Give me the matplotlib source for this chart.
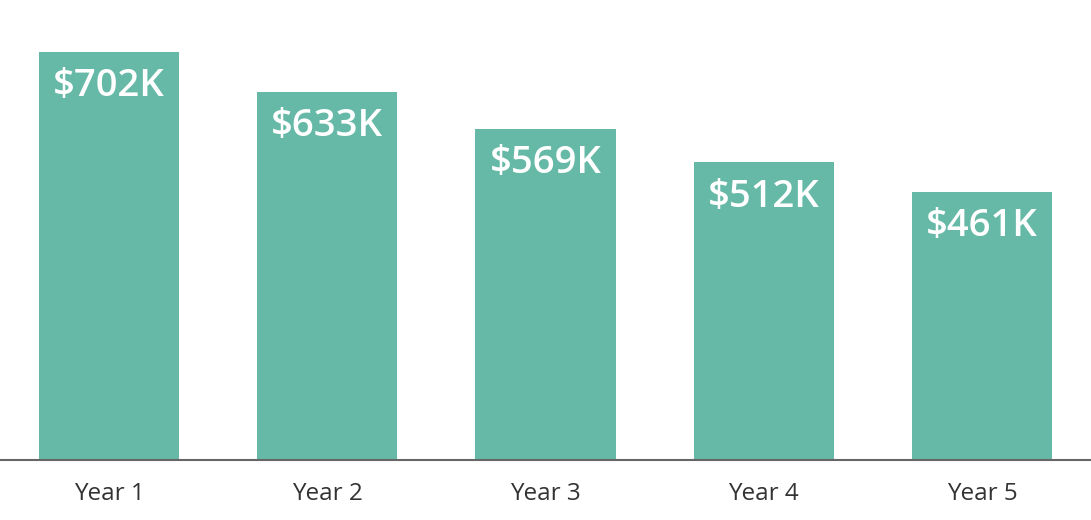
import matplotlib
matplotlib.use("Agg")
import matplotlib.pyplot as plt

categories = ["Year 1", "Year 2", "Year 3", "Year 4", "Year 5"]
values = [702, 633, 569, 512, 461]
labels = ["$702K", "$633K", "$569K", "$512K", "$461K"]

plt.rcParams['font.family'] = ['Open Sans', 'DejaVu Sans']

fig = plt.figure(figsize=(10.91, 5.20), dpi=100)
ax = fig.add_axes([0, 60/520, 1, 460/520])
x = list(range(len(categories)))
bars = ax.bar(x, values, width=0.642, color='#66B9A7')
ax.set_xlim(-0.5, 4.5)
ax.set_ylim(0, 791)
for xi, v, lab in zip(x, values, labels):
    ax.annotate(lab, (xi, v), xytext=(0, -11), textcoords='offset points',
                ha='center', va='top', color='white', fontsize=27.5,
                fontweight='semibold')
ax.set_xticks(x)
ax.set_xticklabels(categories, fontsize=17.5, color='#333333')
ax.tick_params(axis='x', length=0, pad=15.5)
ax.set_yticks([])
for s in ['top', 'right', 'left']:
    ax.spines[s].set_visible(False)
ax.spines['bottom'].set_color('#666666')
ax.spines['bottom'].set_linewidth(1.5)
fig.savefig("out.png", dpi=100)
